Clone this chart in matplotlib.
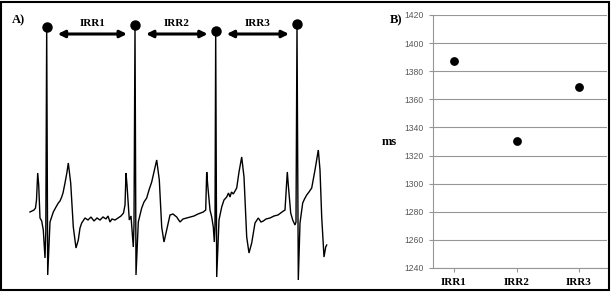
import matplotlib
matplotlib.use("Agg")
import matplotlib.pyplot as plt
import matplotlib.patches as patches
import numpy as np

# ECG trace (time in arbitrary units, amplitude relative to baseline)
ecg_t = [30, 32, 34, 35.5, 36.5, 37.7, 38.7, 40, 41.7, 43.3, 45, 45.8, 46.7, 47.7,
         50, 53.3, 56, 58.3, 60, 61.7, 63, 65, 67, 68.3, 70.7, 73.3, 76, 78.3, 80,
         81.7, 85, 88, 91, 94, 97, 100, 103, 106, 108, 110, 112, 115, 118, 121,
         123.5, 125, 126, 127, 129.3, 131, 133.3, 134, 135, 136,
         138.3, 141.7, 144, 146.7, 149, 151.7, 154, 156.7, 159.3, 161.7, 164, 166.7,
         170, 173, 176.7, 180, 183, 186.7, 190, 194, 198, 203.3, 205.7, 206.7, 207.7,
         210, 211.7, 213.3, 214.3, 215, 215.7, 216.7,
         219, 221.7, 224, 226.7, 228.5, 230, 231.5, 233.3, 236.7, 239, 241.7, 244,
         246.7, 249, 251.7, 255, 258.3, 261, 263.3, 266, 270, 274, 278, 282, 285,
         287.3, 288.3, 290.7, 292.7, 295, 296, 297, 298.3,
         300, 302.7, 304.5, 306.7, 309, 311.7, 315, 318.3, 320, 321.7, 324, 325.7, 326.7]
ecg_v = [8, 9, 10, 12, 20, 47, 35, 2, -1, -10, -38, -12, 193, -55,
         -2, 8, 13, 17, 19, 23, 27, 37, 48, 57, 37, -7, -28, -20, -8,
         -3, 2, 0, 3, -1, 2, 0, 3, 1, 4, -2, 1, 0, 2, 4,
         7, 15, 47, 35, 0, 4, -27, -5, 195, -55,
         -2, 12, 18, 22, 30, 38, 48, 60, 40, -7, -22, -10,
         5, 6, 3, -2, 1, 2, 3, 4, 6, 8, 10, 48, 35,
         10, 3, -7, -22, -5, 189, -57,
         0, 13, 20, 23, 27, 23, 28, 26, 32, 48, 63, 43,
         -17, -33, -23, -3, 2, -2, -1, 1, 2, 4, 5, 8, 10,
         48, 35, 7, 0, -5, -2, 196, -60,
         -3, 17, 21, 25, 28, 32, 50, 70, 50, 3, -37, -27, -25]

irr_labels = ["IRR1", "IRR2", "IRR3"]
irr_ms = [1387, 1330, 1369]
y_ticks = [1240, 1260, 1280, 1300, 1320, 1340, 1360, 1380, 1400, 1420]

W, H = 611, 292
fig = plt.figure(figsize=(W / 100, H / 100), dpi=100)
fig.patch.set_facecolor("white")

# ---- panel A: ECG with R peaks and intervals
axA = fig.add_axes([0, 0, 380 / W, 1])
axA.set_xlim(0, 380)
axA.set_ylim(-72, 220)
axA.axis("off")
t = np.array(ecg_t)
v = np.array(ecg_v)
axA.plot(t, v, color="black", lw=1.0, solid_joinstyle="miter")
peaks = v > 100
rt, rv = t[peaks], v[peaks]
axA.plot(rt, rv, "o", color="black", ms=6.5)

for i, lab in enumerate(irr_labels):
    x0 = rt[i] + 11
    x1 = rt[i + 1] - 8
    axA.annotate("", xy=(x1, 186), xytext=(x0, 186),
                 arrowprops=dict(arrowstyle="<|-|>", color="black", lw=2.2,
                                 mutation_scale=10, shrinkA=0, shrinkB=0))
    axA.text((x0 + x1) / 2, 197, lab, ha="center", va="center",
             family="Liberation Serif", weight="bold", fontsize=8)

# ---- panel B: scatter of intervals
axB = fig.add_axes([433 / W, 1 - 268 / H, (607 - 433) / W, (268 - 15) / H])
xpos = np.arange(1, len(irr_ms) + 1)
axB.plot(xpos, irr_ms, "o", color="black", ms=5.3, zorder=3)
axB.set_xlim(0.664, 3.448)
axB.set_ylim(1240, 1420)
axB.set_yticks(y_ticks)
axB.set_xticks(xpos)
axB.set_xticklabels(irr_labels, family="Liberation Serif", weight="bold",
                    fontsize=8, color="black")
axB.grid(axis="y", color="#969696", lw=0.8)
axB.set_axisbelow(True)
for s in ["top", "right"]:
    axB.spines[s].set_visible(False)
for s in ["left", "bottom"]:
    axB.spines[s].set_color("#969696")
    axB.spines[s].set_linewidth(0.8)
axB.tick_params(axis="y", length=3, width=0.8, color="#969696", pad=3.5,
                labelsize=6.2, labelcolor="#595959")
axB.tick_params(axis="x", length=3, width=0.8, color="#969696", pad=4)
for lbl in axB.get_yticklabels():
    lbl.set_family("Liberation Sans")

fig.text(12 / W, 1 - 20 / H, "A)", family="Liberation Serif", weight="bold",
         fontsize=9, va="center", ha="left")
fig.text(390 / W, 1 - 20 / H, "B)", family="Liberation Serif", weight="bold",
         fontsize=9, va="center", ha="left")
fig.text(389 / W, 1 - 142 / H, "ms", family="Liberation Serif", weight="bold",
         fontsize=9, va="center", ha="center")

fig.add_artist(patches.Rectangle((1 / W, 2 / H), (W - 3) / W, (H - 4) / H,
                                 transform=fig.transFigure, fill=False,
                                 lw=1.5, edgecolor="black"))

fig.savefig("out.png", dpi=100)
